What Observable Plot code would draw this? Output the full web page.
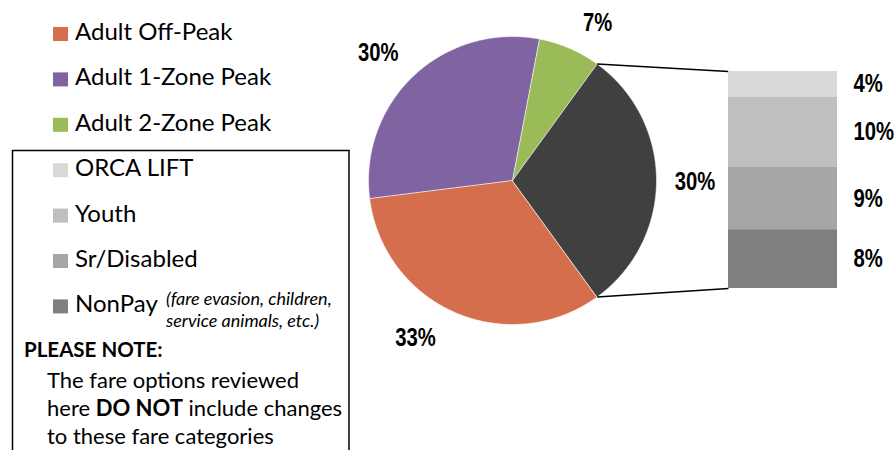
<!DOCTYPE html>
<html><head><meta charset="utf-8">
<script src="https://cdn.jsdelivr.net/npm/d3@7"></script>
<script src="https://cdn.jsdelivr.net/npm/@observablehq/plot@0.6"></script>
<style>
html,body{margin:0;padding:0;background:#fff;}
#chart{position:relative;width:895px;height:450px;overflow:hidden;background:#fff;}
#chart > svg{position:absolute;}
</style></head><body><div id="chart"></div>
<script>
// ---- data ----
const pieCategories = ["Adult Off-Peak", "Adult 1-Zone Peak", "Adult 2-Zone Peak", "Other"];
const pieValues = [33, 30, 7, 30];
const pieColors = ["#D46E4C", "#8064A2", "#9BBB59", "#404040"];
const barCategories = ["ORCA LIFT", "Youth", "Sr/Disabled", "NonPay"];
const barValues = [3.7, 10.0, 8.9, 8.4];
const barColors = ["#D9D9D9", "#BFBFBF", "#A6A6A6", "#808080"];
const nonPayNote = ["(fare evasion, children,", "service animals, etc.)"];
const noteTitle = "PLEASE NOTE:";
const noteLines = [
  [["The fare options reviewed", false]],
  [["here ", false], ["DO NOT", true], [" include changes", false]],
  [["to these fare categories", false]]
];

// ---- layout ----
const W = 895, H = 450;
const cx = 512, cy = 180, R = 144;            // pie centre / radius (px)
const startDeg = 144;                          // first slice starts here (clockwise from 12 o'clock)
const barLeft = 728, barTop = 71, barW = 109, barH = 217;
const labelFont = "'Liberation Sans', Arial, sans-serif";
const labelSize = 25, narrow = 0.81;
const legendFont = "Lato, 'Open Sans', sans-serif";
const labelRadius = 1.26;
const labelNudge = [[-25, -9], [-10, 5], [13, 9], [1, 1]]; // px nudges per slice label

const chart = document.getElementById("chart");
const narrowText = plot => d3.select(plot).selectAll("g[aria-label='text'] text")
  .attr("transform", function() { return (this.getAttribute("transform") || "") + ` scale(${narrow},1)`; });

// ---- pie ----
const toRad = d => d * Math.PI / 180;
const arcs = d3.pie().sort(null).startAngle(toRad(startDeg)).endAngle(toRad(startDeg) + 2 * Math.PI)(pieValues);
const slicePts = [];
arcs.forEach((a, i) => {
  const cat = pieCategories[i];
  slicePts.push({cat, x: 0, y: 0});
  const n = Math.max(2, Math.ceil((a.endAngle - a.startAngle) / toRad(0.5)));
  for (let k = 0; k <= n; k++) {
    const t = a.startAngle + (a.endAngle - a.startAngle) * k / n;
    slicePts.push({cat, x: Math.sin(t), y: Math.cos(t)});
  }
});
const pieLabels = arcs.map((a, i) => {
  const m = (a.startAngle + a.endAngle) / 2;
  return {
    x: Math.sin(m) * labelRadius + labelNudge[i][0] / R,
    y: Math.cos(m) * labelRadius - labelNudge[i][1] / R,
    text: pieValues[i] + "%"
  };
});
const dark = arcs[3];
const connectors = [
  {x1: Math.sin(dark.startAngle), y1: Math.cos(dark.startAngle), x2: (barLeft - cx) / R, y2: (cy - barTop) / R},
  {x1: Math.sin(dark.endAngle), y1: Math.cos(dark.endAngle), x2: (barLeft - cx) / R, y2: (cy - barTop - barH) / R}
];

const piePlot = Plot.plot({
  width: W, height: H, margin: 0,
  x: {domain: [-cx / R, (W - cx) / R], axis: null},
  y: {domain: [-(H - cy) / R, cy / R], axis: null},
  color: {domain: pieCategories, range: pieColors},
  style: {background: "transparent"},
  marks: [
    Plot.line(slicePts, {x: "x", y: "y", z: "cat", fill: "cat", stroke: "#fff", strokeWidth: 0.6, curve: "linear-closed"}),
    Plot.link(connectors, {x1: "x1", y1: "y1", x2: "x2", y2: "y2", stroke: "#000", strokeWidth: 1.6}),
    Plot.text(pieLabels, {x: "x", y: "y", text: "text", fontSize: labelSize, fontWeight: "bold", fontFamily: labelFont, fill: "#000"})
  ]
});
narrowText(piePlot);
piePlot.style.left = "0px"; piePlot.style.top = "0px";
chart.appendChild(piePlot);

// ---- bar of pie ----
const barData = barCategories.map((c, i) => ({cat: c, value: barValues[i], label: Math.round(barValues[i]) + "%"}));
const barPlot = Plot.plot({
  width: barW + 70, height: barH, margin: 0, marginRight: 70,
  x: {domain: ["share"], axis: null, padding: 0},
  y: {domain: [0, d3.sum(barValues)], reverse: true, axis: null},
  color: {domain: barCategories, range: barColors},
  style: {background: "transparent", overflow: "visible"},
  marks: [
    Plot.barY(barData, Plot.stackY({x: () => "share", y: "value", fill: "cat", order: null, inset: 0})),
    Plot.text(barData, Plot.stackY({x: () => "share", y: "value", text: "label", order: null,
      textAnchor: "start", dx: barW / 2 + 16, fontSize: labelSize, fontWeight: "bold", fontFamily: labelFont, fill: "#000"}))
  ]
});
narrowText(barPlot);
barPlot.style.left = barLeft + "px"; barPlot.style.top = barTop + "px";
chart.appendChild(barPlot);

// ---- legend & note ----
const legendItems = pieCategories.slice(0, 3).map((c, i) => ({label: c, color: pieColors[i]}))
  .concat(barCategories.map((c, i) => ({label: c, color: barColors[i]})));
const svg = d3.select(chart).append("svg").attr("width", W).attr("height", H)
  .style("left", "0px").style("top", "0px").style("overflow", "visible");
svg.append("rect").attr("x", 12.5).attr("y", 150.5).attr("width", 336.5).attr("height", 340)
  .attr("fill", "none").attr("stroke", "#000").attr("stroke-width", 1.5);
const rowY = i => 40 + i * 45.4;
const g = svg.append("g").attr("font-family", legendFont).attr("fill", "#000");
legendItems.forEach((d, i) => {
  const y = rowY(i);
  g.append("rect").attr("x", 53).attr("y", y - 13).attr("width", 15).attr("height", 14).attr("fill", d.color);
  g.append("text").attr("x", 75).attr("y", y).attr("font-size", 24).text(d.label);
});
nonPayNote.forEach((t, j) => {
  g.append("text").attr("x", 166).attr("y", rowY(6) - 7 + j * 22).attr("font-size", 18)
    .attr("font-style", "italic").text(t);
});
g.append("text").attr("x", 24).attr("y", 357).attr("font-size", 20.5).attr("font-weight", "bold").text(noteTitle);
noteLines.forEach((parts, j) => {
  const t = g.append("text").attr("x", 47).attr("y", 388 + j * 28).attr("font-size", 22);
  parts.forEach(([s, b]) => t.append("tspan").attr("font-weight", b ? "bold" : "normal").text(s));
});
</script></body></html>
